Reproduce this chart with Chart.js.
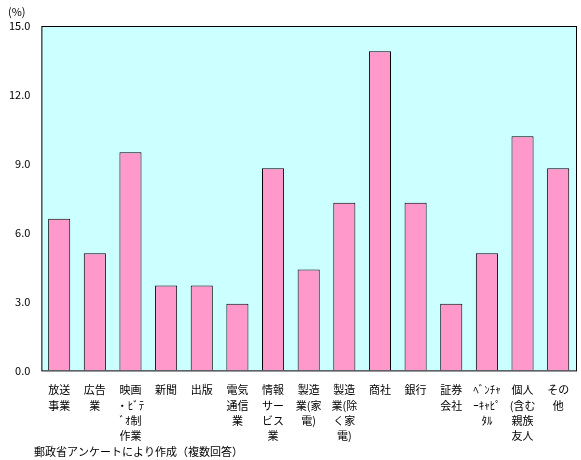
<!DOCTYPE html>
<html><head><meta charset="utf-8">
<script src="https://cdn.jsdelivr.net/npm/chart.js@4"></script>
<style>body{margin:0;background:#fff}#c{display:block}</style>
</head><body>
<div style="width:581px;height:460px"><canvas id="c"></canvas></div>
<script>
const categories = [
  ['放送','事業'], ['広告','業'], ['映画','・ﾋﾞﾃ','ﾞｵ制','作業'], ['新聞'], ['出版'],
  ['電気','通信','業'], ['情報','サー','ビス','業'], ['製造','業(家','電)'], ['製造','業(除','く家','電)'],
  ['商社'], ['銀行'], ['証券','会社'], ['ﾍﾞﾝﾁｬ','ｰｷｬﾋﾟ','ﾀﾙ'], ['個人','(含む','親族','友人'], ['その','他']
];
const values = [6.6, 5.1, 9.5, 3.7, 3.7, 2.9, 8.8, 4.4, 7.3, 13.9, 7.3, 2.9, 5.1, 10.2, 8.8];
const yTicks = [0, 3, 6, 9, 12, 15];
const font = '"Noto Sans CJK JP", sans-serif';

const extras = {
  id: 'extras',
  beforeDraw(chart) {
    const {ctx, chartArea: a} = chart;
    ctx.save();
    ctx.fillStyle = '#ccffff';
    ctx.fillRect(a.left, a.top, a.right - a.left, a.bottom - a.top);
    ctx.restore();
  },
  afterDraw(chart) {
    const {ctx, chartArea: a} = chart;
    ctx.save();
    ctx.strokeStyle = '#000';
    ctx.lineWidth = 1;
    ctx.strokeRect(a.left + 0.5, a.top + 0.5, a.right - a.left, a.bottom - a.top);
    ctx.fillStyle = '#000';
    ctx.font = '11px ' + font;
    ctx.textBaseline = 'middle';
    ctx.fillText('(%)', 8, 12);
    ctx.fillText('郵政省アンケートにより作成（複数回答）', 34, 452);
    ctx.restore();
  }
};

new Chart(document.getElementById('c'), {
  type: 'bar',
  data: {
    labels: categories,
    datasets: [{
      data: values,
      backgroundColor: '#ff99cc',
      borderColor: '#000',
      borderWidth: 1,
      categoryPercentage: 0.62,
      barPercentage: 1
    }]
  },
  options: {
    responsive: true,
    maintainAspectRatio: false,
    animation: false,
    layout: { padding: { top: 26, right: 5, bottom: 12, left: 6 } },
    plugins: { legend: { display: false }, tooltip: { enabled: false } },
    scales: {
      x: {
        grid: { display: false },
        border: { display: false },
        ticks: { autoSkip: false, maxRotation: 0, color: '#000', padding: 4,
                 font: { family: font, size: 11, lineHeight: 1.4 } }
      },
      y: {
        min: 0, max: 15,
        afterBuildTicks: s => { s.ticks = yTicks.map(v => ({ value: v })); },
        grid: { display: false },
        border: { display: false },
        ticks: { color: '#000', font: { family: font, size: 11 },
                 callback: v => v.toFixed(1) }
      }
    }
  },
  plugins: [extras]
});
</script>
</body></html>
